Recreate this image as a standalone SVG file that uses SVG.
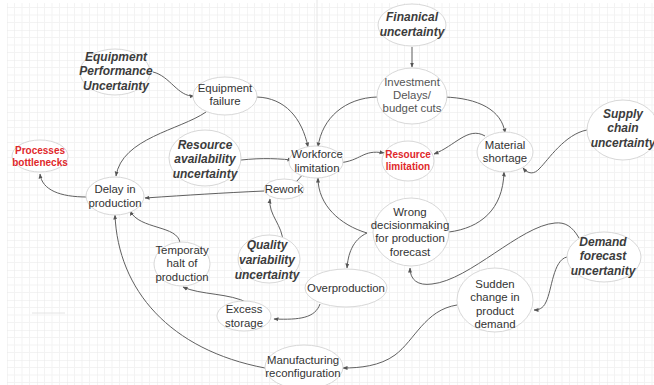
<svg xmlns="http://www.w3.org/2000/svg" width="654" height="385" viewBox="0 0 654 385">
  <defs>
    <pattern id="grid" width="30" height="30" patternUnits="userSpaceOnUse" x="7" y="0">
      <path d="M7.5,0V30M15,0V30M22.5,0V30M0,7.5H30M0,15H30M0,22.5H30" stroke="#f3f3f3" stroke-width="1" fill="none"/>
      <path d="M0,0V30M0,0H30" stroke="#e9e9e9" stroke-width="1" fill="none"/>
    </pattern>
    <marker id="arrow" viewBox="0 0 10 10" refX="9" refY="5" markerWidth="5" markerHeight="5" orient="auto" markerUnits="userSpaceOnUse">
      <path d="M0,1 L10,5 L0,9 Z" fill="#555"/>
    </marker>
    <style>
      .node ellipse { fill: #fff; stroke: #d8d8d8; stroke-width: 1; }
      .lbl { font-family: "Liberation Sans", Arial, sans-serif; font-size: 11.4px; fill: #333; text-anchor: middle; }
      .soft { fill: #555; }
      .unc { font-family: "Liberation Sans", Arial, sans-serif; font-size: 12px; font-weight: bold; font-style: italic; fill: #3c3c3c; text-anchor: middle; }
      .red { font-family: "Liberation Sans", Arial, sans-serif; font-size: 10px; font-weight: bold; fill: #e0282b; text-anchor: middle; }
      .edges path { fill: none; stroke: #606060; stroke-width: 1; marker-end: url(#arrow); }
    </style>
  </defs>

  <!-- background sheet with faint grid -->
  <rect width="654" height="385" fill="#fff"/>
  <rect x="7" y="3" width="647" height="382" fill="url(#grid)"/>
  <line x1="317" y1="0" x2="317" y2="385" stroke="#e6e6e6" stroke-width="1"/>
  <line x1="32" y1="313" x2="65" y2="313" stroke="#e4e4e4" stroke-width="1"/>

  <!-- connectors -->
  <g class="edges" id="connectors">
    <path d="M412,47 L412,67"/>
    <path d="M153,72 C170,76 178,97 194,96"/>
    <path d="M206,112 C180,130 122,138 116,176"/>
    <path d="M257,97 C285,98 302,118 308,147"/>
    <path d="M377,97 C345,98 322,118 318,147"/>
    <path d="M444,97 C478,98 502,110 505,133"/>
    <path d="M233,161 C255,158 272,158 292,160"/>
    <path d="M338,163 C362,161 362,149 384,153"/>
    <path d="M485,136 C468,126 455,146 434,154"/>
    <path d="M587,130 C565,134 548,160 540,168 C534,175 528,174 523,168"/>
    <path d="M296,182 L305,172"/>
    <path d="M264,191 C220,193 190,195 145,198"/>
    <path d="M283,243 C283,225 268,215 270,199"/>
    <path d="M87,197 C60,197 42,190 40,174"/>
    <path d="M367,233 C340,225 318,205 318,178"/>
    <path d="M367,233 C352,240 348,255 347,268"/>
    <path d="M449,232 C480,228 503,210 504,172"/>
    <path d="M320,304 C315,318 300,320 274,319"/>
    <path d="M248,303 C230,293 200,295 183,287"/>
    <path d="M180,243 C178,225 140,230 130,211"/>
    <path d="M265,368 C170,350 118,290 115,215"/>
    <path d="M579,238 C572,226 565,222 555,223 C520,226 470,280 432,284 C418,286 410,280 410,268"/>
    <path d="M567,257 C553,260 552,290 546,302 C543,309 538,310 534,310"/>
    <path d="M457,305 C425,310 415,340 395,355 C380,366 360,368 343,368"/>
  </g>

  <!-- nodes -->
  <g class="node" id="financial-uncertainty">
    <ellipse cx="412" cy="25" rx="34" ry="21"/>
    <text class="unc" x="412" y="21">Finanical</text>
    <text class="unc" x="412" y="36">uncertainty</text>
  </g>
  <g class="node" id="investment-delays">
    <ellipse cx="412" cy="96" rx="35" ry="28"/>
    <text class="lbl soft" x="412" y="86">Investment</text>
    <text class="lbl soft" x="412" y="99">Delays/</text>
    <text class="lbl soft" x="412" y="112">budget cuts</text>
  </g>
  <g class="node" id="equipment-performance-uncertainty">
    <ellipse cx="115" cy="72" rx="35" ry="23"/>
    <text class="unc" x="116" y="61">Equipment</text>
    <text class="unc" x="116" y="75">Performance</text>
    <text class="unc" x="116" y="90">Uncertainty</text>
  </g>
  <g class="node" id="equipment-failure">
    <ellipse cx="225" cy="96" rx="32" ry="19"/>
    <text class="lbl" x="225" y="92">Equipment</text>
    <text class="lbl" x="225" y="105">failure</text>
  </g>
  <g class="node" id="processes-bottlenecks">
    <ellipse cx="40" cy="156" rx="28" ry="16"/>
    <text class="red" x="40" y="154">Processes</text>
    <text class="red" x="40" y="166">bottlenecks</text>
  </g>
  <g class="node" id="delay-in-production">
    <ellipse cx="115" cy="196" rx="29" ry="19"/>
    <text class="lbl" x="115" y="193">Delay in</text>
    <text class="lbl" x="115" y="207">production</text>
  </g>
  <g class="node" id="resource-availability-uncertainty">
    <ellipse cx="205" cy="158" rx="36" ry="28"/>
    <text class="unc" x="205" y="149">Resource</text>
    <text class="unc" x="205" y="163">availability</text>
    <text class="unc" x="205" y="178">uncertainty</text>
  </g>
  <g class="node" id="workforce-limitation">
    <ellipse cx="316" cy="162" rx="27" ry="16"/>
    <text class="lbl" x="317" y="158">Workforce</text>
    <text class="lbl" x="317" y="172">limitation</text>
  </g>
  <g class="node" id="resource-limitation">
    <ellipse cx="408" cy="161" rx="26" ry="20"/>
    <text class="red" x="408" y="158">Resource</text>
    <text class="red" x="408" y="170">limitation</text>
  </g>
  <g class="node" id="material-shortage">
    <ellipse cx="505" cy="152" rx="28" ry="20"/>
    <text class="lbl" x="505" y="149">Material</text>
    <text class="lbl" x="505" y="162">shortage</text>
  </g>
  <g class="node" id="supply-chain-uncertainty">
    <ellipse cx="623" cy="130" rx="36" ry="30"/>
    <text class="unc" x="623" y="118">Supply</text>
    <text class="unc" x="623" y="132">chain</text>
    <text class="unc" x="623" y="147">uncertainty</text>
  </g>
  <g class="node" id="rework">
    <ellipse cx="284" cy="189" rx="20" ry="10"/>
    <text class="lbl" x="284" y="193">Rework</text>
  </g>
  <g class="node" id="quality-variability-uncertainty">
    <ellipse cx="269" cy="259" rx="31" ry="24"/>
    <text class="unc" x="267" y="249">Quality</text>
    <text class="unc" x="267" y="264">variability</text>
    <text class="unc" x="267" y="279">uncertainty</text>
  </g>
  <g class="node" id="wrong-decisionmaking">
    <ellipse cx="411" cy="232" rx="38" ry="34"/>
    <text class="lbl" x="410" y="216">Wrong</text>
    <text class="lbl" x="410" y="229">decisionmaking</text>
    <text class="lbl" x="410" y="242">for production</text>
    <text class="lbl" x="410" y="256">forecast</text>
  </g>
  <g class="node" id="overproduction">
    <ellipse cx="346" cy="288" rx="41" ry="19"/>
    <text class="lbl" x="346" y="292">Overproduction</text>
  </g>
  <g class="node" id="excess-storage">
    <ellipse cx="244" cy="316" rx="27" ry="15"/>
    <text class="lbl" x="244" y="313">Excess</text>
    <text class="lbl" x="244" y="327">storage</text>
  </g>
  <g class="node" id="temporary-halt">
    <ellipse cx="182" cy="264" rx="28" ry="22"/>
    <text class="lbl" x="182" y="254">Temporaty</text>
    <text class="lbl" x="182" y="267">halt of</text>
    <text class="lbl" x="182" y="281">production</text>
  </g>
  <g class="node" id="manufacturing-reconfiguration">
    <ellipse cx="304" cy="367" rx="39" ry="22"/>
    <text class="lbl" x="303" y="364">Manufacturing</text>
    <text class="lbl" x="303" y="377">reconfiguration</text>
  </g>
  <g class="node" id="demand-forecast-uncertainty">
    <ellipse cx="604" cy="257" rx="37" ry="25"/>
    <text class="unc" x="603" y="246">Demand</text>
    <text class="unc" x="603" y="260">forecast</text>
    <text class="unc" x="603" y="275">uncertanity</text>
  </g>
  <g class="node" id="sudden-change">
    <ellipse cx="495" cy="300" rx="38" ry="32"/>
    <text class="lbl" x="495" y="288">Sudden</text>
    <text class="lbl" x="495" y="301">change in</text>
    <text class="lbl" x="495" y="315">product</text>
    <text class="lbl" x="495" y="328">demand</text>
  </g>
</svg>
